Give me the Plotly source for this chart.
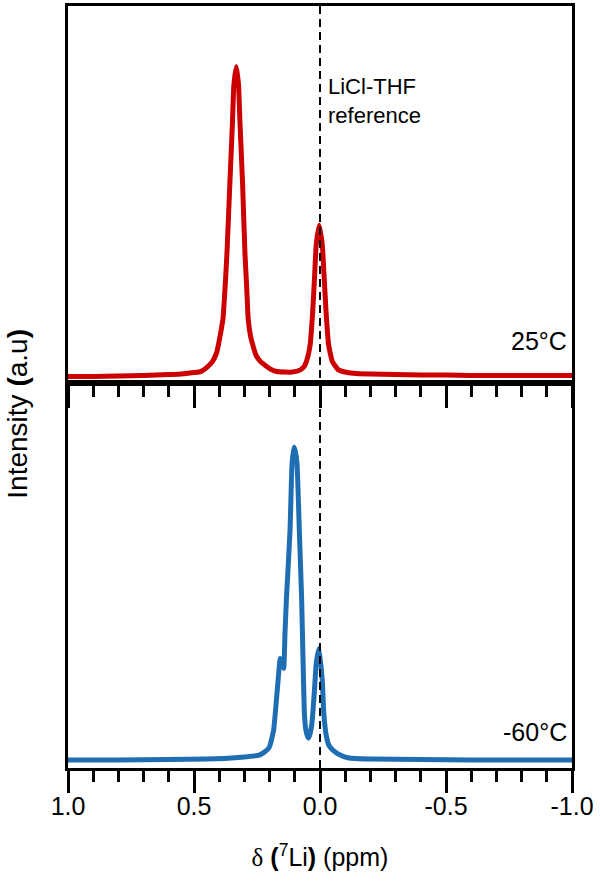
import plotly.graph_objects as go

# ---------------- data ----------------
shift_25 = [1.00, 0.90, 0.80, 0.70, 0.60, 0.55, 0.50, 0.473, 0.45, 0.427, 0.41, 0.403,
            0.394, 0.385, 0.376, 0.369, 0.358, 0.347, 0.342, 0.332, 0.323, 0.318, 0.307,
            0.298, 0.291, 0.285, 0.276, 0.267, 0.255, 0.236, 0.20, 0.172, 0.14, 0.11,
            0.078, 0.063, 0.054, 0.039, 0.029, 0.022, 0.015, 0.003, -0.009, -0.017,
            -0.024, -0.034, -0.049, -0.073, -0.10, -0.132, -0.2, -0.3, -0.4, -0.5, -0.6,
            -0.7, -0.8, -0.9, -1.0]
int_25 = [6, 6, 6.5, 7, 8, 8.5, 10, 11, 15, 21, 30, 38,
          50, 64, 98, 131, 198, 264, 298, 317, 298, 264, 198,
          131, 96, 64, 47, 38, 28, 21, 14, 11, 10.5, 10.5,
          12.7, 16, 21, 38, 71, 104, 138, 158, 138, 104,
          71, 38, 21, 12.7, 10.5, 9.3, 8.5, 8, 7.5, 7.5, 7,
          7, 7, 7, 7]

shift_m60 = [1.00, 0.80, 0.60, 0.45, 0.38, 0.30, 0.241, 0.22, 0.201, 0.184, 0.172, 0.164,
             0.158, 0.151, 0.144, 0.139, 0.133, 0.119, 0.111, 0.103, 0.098, 0.091, 0.082,
             0.073, 0.067, 0.062, 0.056, 0.047, 0.041, 0.032, 0.022, 0.015, 0.004, -0.009,
             -0.015, -0.026, -0.037, -0.051, -0.08, -0.115, -0.2, -0.4, -0.6, -0.8, -1.0]
int_m60 = [8, 8, 8.5, 9, 9.5, 11, 13, 16, 21, 38, 71, 95,
           110, 106, 100, 135, 171, 238, 305, 322, 318, 305, 238,
           171, 105, 55, 38, 30, 33, 45, 78, 105, 120, 88,
           55, 31, 22, 18, 13, 10, 9, 8.5, 8, 8, 8]

tick_vals = [1.0, 0.5, 0.0, -0.5, -1.0]
tick_text = ["1.0", "0.5", "0.0", "-0.5", "-1.0"]
minor_vals = [0.9, 0.8, 0.7, 0.6, 0.4, 0.3, 0.2, 0.1, -0.1, -0.2, -0.3, -0.4,
              -0.6, -0.7, -0.8, -0.9]

labels = {"top": "25°C", "bottom": "-60°C", "ref": "LiCl-THF<br>reference"}

# ---------------- figure ----------------
FONT = "Arial, Liberation Sans, sans-serif"
RED = "#CC0000"
BLUE = "#1F6DB2"

fig = go.Figure()
fig.add_trace(go.Scatter(x=shift_25, y=int_25, xaxis="x", yaxis="y", mode="lines",
                         line=dict(color=RED, width=5, shape="spline", smoothing=0.4),
                         showlegend=False))
fig.add_trace(go.Scatter(x=shift_m60, y=int_m60, xaxis="x2", yaxis="y2", mode="lines",
                         line=dict(color=BLUE, width=5, shape="spline", smoothing=0.4),
                         showlegend=False))

split = 0.5059
axis_common = dict(showline=True, linecolor="black", linewidth=3, mirror=True,
                   showgrid=False, zeroline=False)
xcommon = dict(range=[1.0, -1.0], tickmode="array", tickvals=tick_vals,
               ticks="outside", ticklen=22, tickwidth=3, tickcolor="black",
               minor=dict(tickmode="array", tickvals=minor_vals, ticks="outside",
                          ticklen=11, tickwidth=3, tickcolor="black"),
               **axis_common)

fig.update_layout(
    width=600, height=886,
    margin=dict(l=68, r=28, t=3, b=118),
    paper_bgcolor="white", plot_bgcolor="white",
    font=dict(family=FONT, color="black"),
    xaxis=dict(anchor="y", domain=[0, 1], showticklabels=False, **xcommon),
    yaxis=dict(domain=[split, 1], range=[0, 378], showticklabels=False, ticks="",
               **axis_common),
    xaxis2=dict(anchor="y2", domain=[0, 1], ticktext=tick_text, showticklabels=True,
                ticklabelstandoff=-8,
                tickfont=dict(size=25, family=FONT, color="black"),
                title=dict(text="<span style=\"font-family:'Liberation Serif', serif\">δ</span> <b>(</b><sup>7</sup>Li<b>)</b> (ppm)",
                           font=dict(size=25, family=FONT, color="black"), standoff=30),
                **xcommon),
    yaxis2=dict(domain=[0, split], range=[0, 387], showticklabels=False, ticks="",
                **axis_common),
)

# dashed reference line at 0 ppm across both panels
fig.add_shape(type="line", xref="x", yref="paper", x0=0, x1=0, y0=0, y1=1,
              line=dict(color="black", width=2, dash="8px,5px"), layer="above")

fig.add_annotation(text=labels["ref"], xref="x", yref="y", x=-0.025, y=312,
                   xanchor="left", yanchor="top", showarrow=False, align="left",
                   font=dict(size=22, family=FONT, color="black"))
fig.add_annotation(text=labels["top"], xref="x", yref="y", x=-0.99, y=42,
                   xanchor="right", yanchor="middle", showarrow=False,
                   font=dict(size=25, family=FONT, color="black"))
fig.add_annotation(text=labels["bottom"], xref="x2", yref="y2", x=-0.99, y=36,
                   xanchor="right", yanchor="middle", showarrow=False,
                   font=dict(size=25, family=FONT, color="black"))
fig.add_annotation(text="Intensity <b>(</b>a.u<b>)</b>", xref="paper", yref="paper",
                   x=0, xshift=-50, y=0.465, xanchor="center", yanchor="middle",
                   textangle=-90, showarrow=False,
                   font=dict(size=28, family=FONT, color="black"))

fig.write_html("out.html", config={"displayModeBar": False},
               post_script="document.body.style.margin='0';document.body.style.padding='0';")
